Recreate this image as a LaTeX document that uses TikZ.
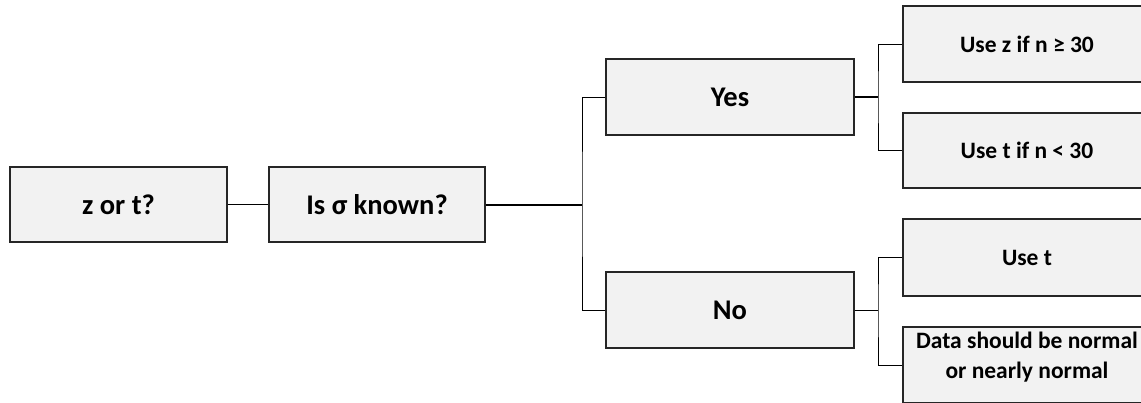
\documentclass[tikz,border=0pt]{standalone}
\usepackage{fontspec}
\setmainfont{Carlito}
\begin{document}
\begin{tikzpicture}[x=1pt,y=-1pt,
  box/.style={draw=black!85,line width=1.3pt,fill=black!5,inner sep=0pt,font=\bfseries\fontsize{28.5}{32}\selectfont},
  leaf/.style={box,font=\bfseries\fontsize{23.5}{30}\selectfont,align=center},
  conn/.style={draw=black,line width=1pt},
  thick conn/.style={draw=black,line width=2pt}]
\useasboundingbox (0,0) rectangle (1141,402);
\clip (0,0) rectangle (1141,402);
\node[box,minimum width=217pt,minimum height=75pt] (zt) at (118.5,204.5) {z or t?};
\node[box,minimum width=216pt,minimum height=75pt] (sig) at (377,204.5) {Is σ known?};
\node[box,minimum width=248pt,minimum height=76pt] (yes) at (730,97) {Yes};
\node[box,minimum width=248pt,minimum height=76pt] (no) at (730,310) {No};
\node[leaf,minimum width=248pt,minimum height=76pt] (r1) at (1027,44) {Use z if n ≥ 30};
\node[leaf,minimum width=248pt,minimum height=75pt] (r2) at (1027,150.5) {Use t if n < 30};
\node[leaf,minimum width=248pt,minimum height=77pt] (r3) at (1027,257.5) {Use t};
\node[leaf,minimum width=248pt,minimum height=76pt,text depth=19pt] (r4) at (1027,365) {Data should be normal\\or nearly normal};
\coordinate (j1) at (582,204.5);
\coordinate (j2) at (878,97);
\coordinate (j3) at (878,310);
\draw[conn] (zt.east) -- (sig.west);
\draw[thick conn] (sig.east) -- (j1);
\draw[conn] (yes.west) -| (j1) |- (no.west);
\draw[thick conn] (yes.east) -- (j2);
\draw[conn] (r1.west) -| (j2) |- (r2.west);
\draw[conn] (no.east) -- (j3);
\draw[conn] (r3.west) -| (j3) |- (r4.west);
\end{tikzpicture}
\end{document}
